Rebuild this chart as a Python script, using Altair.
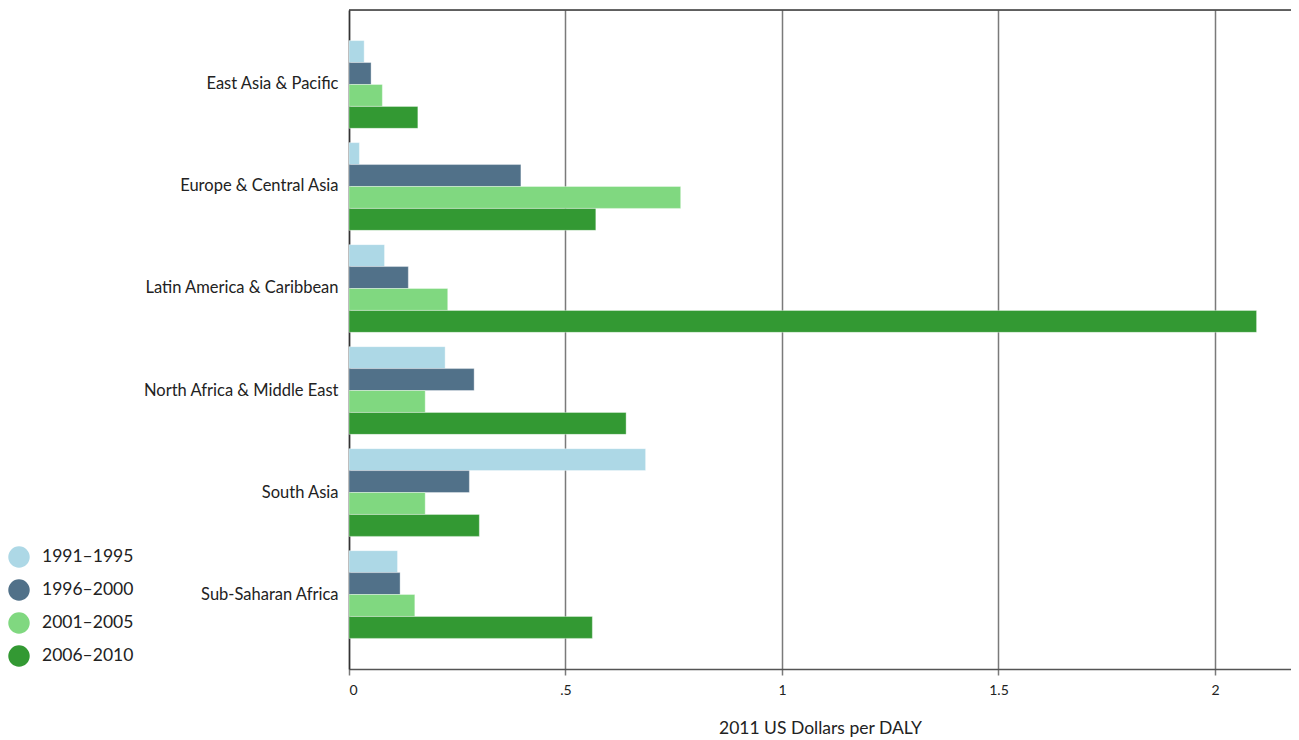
import altair as alt
import pandas as pd

regions = ["East Asia & Pacific", "Europe & Central Asia", "Latin America & Caribbean",
           "North Africa & Middle East", "South Asia", "Sub-Saharan Africa"]
periods = ["1991–1995", "1996–2000", "2001–2005", "2006–2010"]
colors = ["#ADD8E6", "#517189", "#80D880", "#339933"]

v_1991 = [0.035, 0.024, 0.082, 0.222, 0.685, 0.112]
v_1996 = [0.051, 0.397, 0.137, 0.289, 0.278, 0.118]
v_2001 = [0.077, 0.766, 0.228, 0.176, 0.176, 0.152]
v_2006 = [0.159, 0.570, 2.096, 0.640, 0.301, 0.562]

series = [v_1991, v_1996, v_2001, v_2006]
rows = []
for p, vals in zip(periods, series):
    for r, v in zip(regions, vals):
        rows.append({"region": r, "period": p, "value": v})
df = pd.DataFrame(rows)

W, H = 942, 659
FONT = "Lato"

bars = alt.Chart(df).mark_bar(stroke="white", strokeWidth=0.6, strokeOpacity=0.6).encode(
    y=alt.Y("region:N", sort=regions,
            scale=alt.Scale(paddingInner=0.14, paddingOuter=0.3),
            axis=alt.Axis(title=None, labelFont=FONT, labelFontSize=16.5, labelColor="#222",
                          labelPadding=11, labelLimit=400, ticks=False,
                          domainColor="#333", domainWidth=1.5)),
    yOffset=alt.YOffset("period:N", sort=periods, scale=alt.Scale(paddingInner=0, paddingOuter=0)),
    x=alt.X("value:Q", scale=alt.Scale(domain=[0, W / 433], nice=False, zero=True),
            axis=alt.Axis(title="2011 US Dollars per DALY", values=[0, 0.5, 1, 1.5, 2],
                          labelExpr="datum.value == 0.5 ? '.5' : format(datum.value, '~g')",
                          labelFont=FONT, labelFontSize=14, labelColor="#222", labelPadding=8,
                          titleFont=FONT, titleFontSize=17.5, titleFontWeight="normal",
                          titleColor="#222", titlePadding=22,
                          grid=True, gridColor="#7a7a7a", gridWidth=1.5,
                          tickColor="#7a7a7a", tickSize=6, tickWidth=1.5,
                          domainColor="#555", domainWidth=1.5)),
    color=alt.Color("period:N", sort=periods,
                    scale=alt.Scale(domain=periods, range=colors),
                    legend=alt.Legend(title=None, orient="none", legendX=-341, legendY=536,
                                      symbolType="circle", symbolSize=460, symbolStrokeWidth=0,
                                      labelFont=FONT, labelFontSize=17.5, labelColor="#222",
                                      rowPadding=11, labelOffset=12)),
)

topline = alt.Chart(pd.DataFrame({"a": [0]})).mark_rule(color="#333", strokeWidth=1.5).encode(
    x=alt.value(0), x2=alt.value(W), y=alt.value(0)
)

chart = alt.layer(bars, topline).properties(
    width=W, height=H,
    autosize=alt.AutoSizeParams(type="none"),
    padding={"left": 341, "top": 2, "right": 0, "bottom": 70},
).configure_view(stroke=None).configure(background="white")

chart.save("out.html", embed_options={"renderer": "svg", "actions": False})
